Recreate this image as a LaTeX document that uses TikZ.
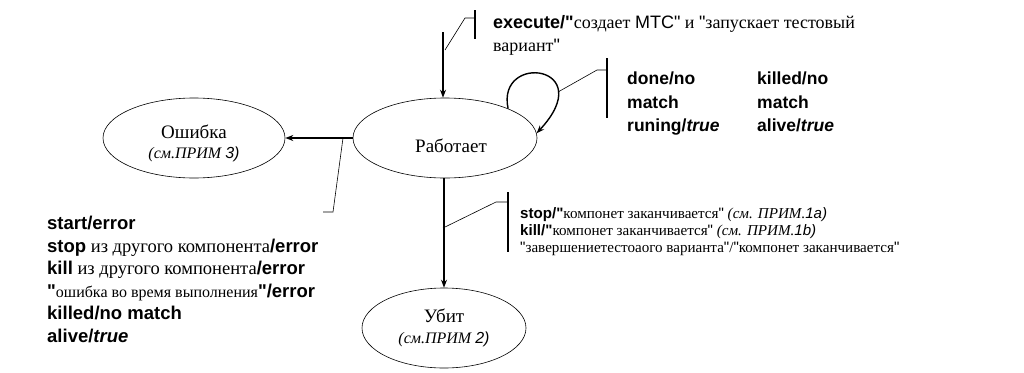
\documentclass[tikz,border=0pt]{standalone}
\usepackage{fontspec}
\setmainfont{Liberation Serif}[Ligatures=TeXOff]
\newfontfamily\arial{Liberation Sans}[Ligatures=TeXOff]
\usetikzlibrary{shapes.geometric,arrows.meta}
\newcommand{\bs}[1]{{\arial\bfseries #1}}
\newcommand{\bsi}[1]{{\arial\bfseries\itshape #1}}
\newcommand{\nt}[1]{{\itshape #1}}
\newcommand{\ns}[1]{{\arial\itshape #1}}
\newcommand{\sq}{{\arial"}}
\begin{document}
\begin{tikzpicture}[x=1pt,y=-1pt,
  state/.style={draw,ellipse,line width=0.6pt,inner sep=0pt},
  stext/.style={inner sep=0pt,anchor=base},
  trans/.style={line width=1.4pt,-{Stealth[length=8pt,width=6pt]}},
  lead/.style={line width=0.6pt},
  bar/.style={line width=1.4pt},
  lbl/.style={anchor=base west,inner sep=0pt},
  topf/.style={font=\fontsize{18}{20}\selectfont},
  loopf/.style={font=\fontsize{17.5}{20}\arial\bfseries},
  rightf/.style={font=\fontsize{15.1}{18}\selectfont},
  leftf/.style={font=\fontsize{18.5}{22}\selectfont},
  bigf/.style={font=\fontsize{19}{22}\selectfont},
  smallf/.style={font=\fontsize{16}{19}\selectfont},
]
\useasboundingbox (0,0) rectangle (1024,372);
% states
\node[state,minimum width=184pt,minimum height=80pt] (rab) at (445,138) {};
\node[state,minimum width=182pt,minimum height=80pt] (err) at (194,138) {};
\node[state,minimum width=164pt,minimum height=80pt] (kil) at (444,328) {};
\node[stext,bigf] (rabt) at (451,152) {Работает};
\node[stext,bigf] (errt) at (194,138) {Ошибка};
\node[stext,smallf] (errn) at (194,158) {\nt{(см.ПРИМ} \ns{3)}};
\node[stext,bigf] (kilt) at (444,322) {Убит};
\node[stext,smallf] (kiln) at (444,343) {\nt{(см.ПРИМ} \ns{2)}};
% start
\coordinate (s0) at (443,32);
\draw[trans] (s0) -- (rab.north -| s0);
% transitions
\draw[trans] (rab.west) -- (err.east);
\draw[trans] (rab.south -| kil.north) -- (kil.north);
\draw[trans] (rab.25) .. controls (496,52) and (600,65) .. (rab.3);
% leaders
\coordinate (a1) at (445,50); \coordinate (a2) at (465,18); \coordinate (a3) at (475,18);
\draw[lead] (a1) -- (a2) -- (a3);
\draw[bar] (475,10) coordinate (b1) -- (475,39) coordinate (b2);
\coordinate (c1) at (558,92); \coordinate (c2) at (597,70); \coordinate (c3) at (607,70);
\draw[lead] (c1) -- (c2) -- (c3);
\draw[bar] (607,58) coordinate (d1) -- (607,118) coordinate (d2);
\coordinate (e1) at (343,138); \coordinate (e2) at (333,212); \coordinate (e3) at (323,212);
\draw[lead] (e1) -- (e2) -- (e3);
\coordinate (f1) at (443,228); \coordinate (f2) at (496,202); \coordinate (f3) at (508,202);
\draw[lead] (f1) -- (f2) -- (f3);
\draw[bar] (508,192) coordinate (g1) -- (508,252) coordinate (g2);
% labels
\node[lbl,topf] (t1) at (493,28) {\bs{execute/"}создает {\arial МТС"} и \sq запускает тестовый};
\node[lbl,topf] (t2) at (493,51) {вариант\sq};
\node[lbl,loopf] (l1) at (627,84) {done/no};
\node[lbl,loopf] (l2) at (627,108) {match};
\node[lbl,loopf] (l3) at (627,131) {runing/\textit{true}};
\node[lbl,loopf] (m1) at (757,84) {killed/no};
\node[lbl,loopf] (m2) at (757,108) {match};
\node[lbl,loopf] (m3) at (757,131) {alive/\textit{true}};
\node[lbl,rightf] (r1) at (520,218) {\bs{stop/"}компонет заканчивается\sq{} \nt{(см. ПРИМ.}\ns{1a)}};
\node[lbl,rightf] (r2) at (520,235) {\bs{kill/"}компонет заканчивается\sq{} \nt{(см. ПРИМ.}\ns{1b)}};
\node[lbl,rightf] (r3) at (520,252) {\sq завершениетестоаого варианта\sq/\sq компонет заканчивается\sq};
\node[lbl,leftf] (k1) at (47,229.5) {\bs{start/error}};
\node[lbl,leftf] (k2) at (47,252) {\bs{stop} из другого компонента\bs{/error}};
\node[lbl,leftf] (k3) at (47,274.5) {\bs{kill} из другого компонента\bs{/error}};
\node[lbl,leftf] (k4) at (47,297) {\bs{"}{\fontsize{16}{18}\selectfont ошибка во время выполнения}\bs{"/error}};
\node[lbl,leftf] (k5) at (47,319) {\bs{killed/no match}};
\node[lbl,leftf] (k6) at (47,342) {\bs{alive/}\bsi{true}};
\end{tikzpicture}
\end{document}
